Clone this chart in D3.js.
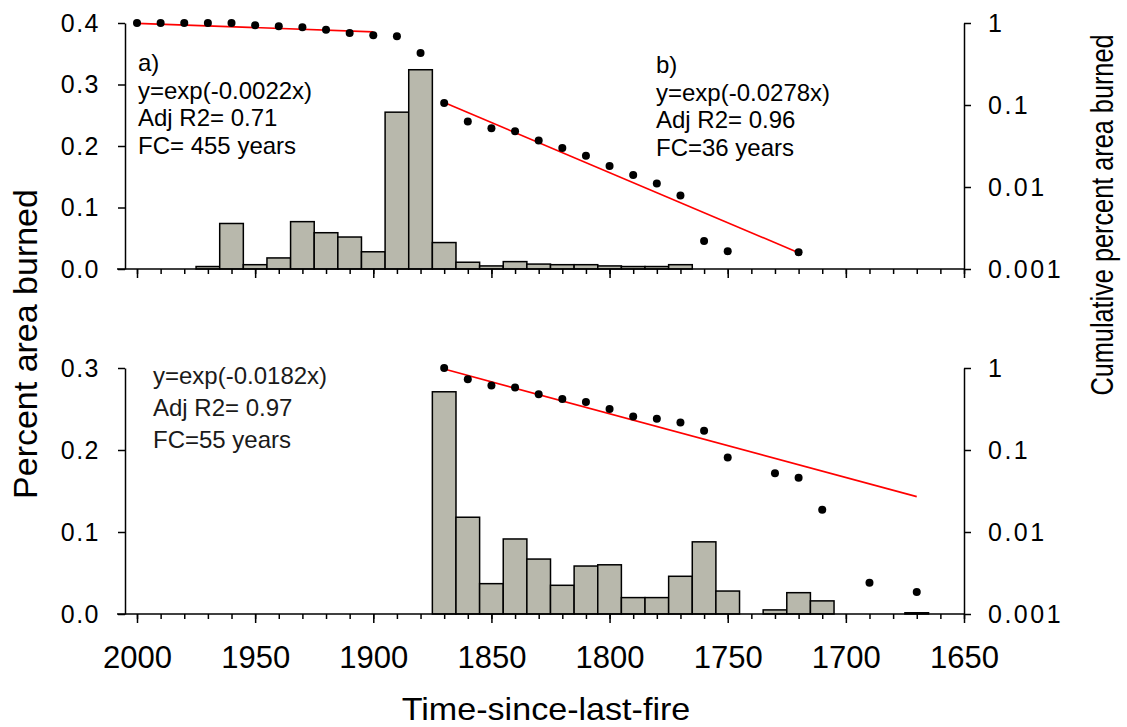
<!DOCTYPE html>
<html>
<head>
<meta charset="utf-8">
<script src="https://cdn.jsdelivr.net/npm/d3@7"></script>
<style>
  body { margin: 0; background: #fff; }
  text { font-family: "Liberation Sans", Arial, sans-serif; fill: #000; }
</style>
</head>
<body>
<script>
// ---- data ----
// top panel: percent area burned per 10-year class
const topBarYears = [1970, 1960, 1950, 1940, 1930, 1920, 1910, 1900, 1890, 1880, 1870,
                     1860, 1850, 1840, 1830, 1820, 1810, 1800, 1790, 1780, 1770];
const topBarValues = [0.004, 0.074, 0.007, 0.018, 0.077, 0.059, 0.052, 0.028, 0.255, 0.324, 0.043,
                      0.011, 0.005, 0.012, 0.008, 0.007, 0.007, 0.005, 0.004, 0.004, 0.007];
// top panel: cumulative percent area burned (log axis)
const topDotYears = [2000, 1990, 1980, 1970, 1960, 1950, 1940, 1930, 1920, 1910, 1900, 1890, 1880,
                     1870, 1860, 1850, 1840, 1830, 1820, 1810, 1800, 1790, 1780, 1770, 1760, 1750, 1720];
const topDotValues = [1, 1, 1, 1, 1, 0.94, 0.91, 0.89, 0.83, 0.755, 0.71, 0.69, 0.43,
                      0.106, 0.063, 0.052, 0.048, 0.037, 0.030, 0.024, 0.018, 0.014, 0.011, 0.0079, 0.0022, 0.00165, 0.0016];
// fitted lines (end points)
const fitAYears = [2000, 1900];
const fitAValues = [0.99, 0.78];
const fitBYears = [1870, 1720];
const fitBValues = [0.107, 0.00158];

// bottom panel
const botBarYears = [1870, 1860, 1850, 1840, 1830, 1820, 1810, 1800, 1790, 1780, 1770, 1760, 1750,
                     1730, 1720, 1710, 1670];
const botBarValues = [0.271, 0.118, 0.037, 0.0915, 0.067, 0.035, 0.0585, 0.06, 0.020, 0.020, 0.046, 0.088, 0.028,
                      0.005, 0.026, 0.016, 0.0015];
const botDotYears = [1870, 1860, 1850, 1840, 1830, 1820, 1810, 1800, 1790, 1780, 1770, 1760, 1750,
                     1730, 1720, 1710, 1690, 1670];
const botDotValues = [1, 0.73, 0.61, 0.58, 0.48, 0.42, 0.385, 0.316, 0.257, 0.241, 0.217, 0.172, 0.081,
                      0.052, 0.046, 0.0187, 0.0024, 0.00186];
const fitCYears = [1870, 1670];
const fitCValues = [0.97, 0.027];

const majorYears = [2000, 1950, 1900, 1850, 1800, 1750, 1700, 1650];
const logTicks = [1, 0.1, 0.01, 0.001];

// ---- canvas ----
const W = 1127, H = 727;
const svg = d3.select("body").append("svg")
  .attr("width", W).attr("height", H)
  .style("background", "#fff");

const x = d3.scaleLinear().domain([2000, 1650]).range([137, 964]);
const binW = 10; // years per bar
const minorYears = d3.range(2000, 1649, -10);

const barFill = "#b8b8ac";

function panel(opts) {
  const yL = d3.scaleLinear().domain([0, opts.yMax]).range([opts.bottom, opts.top]);
  const yR = d3.scaleLog().domain([0.001, 1]).range([opts.bottom, opts.top]);
  const g = svg.append("g");

  // bars
  g.selectAll("rect.bar")
    .data(opts.barYears.map((yr, i) => ({ yr, v: opts.barValues[i] })))
    .join("rect")
    .attr("class", "bar")
    .attr("x", d => x(d.yr + binW / 2))
    .attr("width", d => x(d.yr - binW / 2) - x(d.yr + binW / 2))
    .attr("y", d => yL(d.v))
    .attr("height", d => yL(0) - yL(d.v))
    .attr("fill", barFill)
    .attr("stroke", "#000")
    .attr("stroke-width", 1.5);

  // fitted lines
  const line = d3.line().x(d => x(d[0])).y(d => yR(d[1]));
  opts.fits.forEach(f => {
    g.append("path")
      .datum(f.years.map((yr, i) => [yr, f.values[i]]))
      .attr("d", line)
      .attr("fill", "none")
      .attr("stroke", "#ff0000")
      .attr("stroke-width", 1.6);
  });

  // dots
  g.selectAll("circle.dot")
    .data(opts.dotYears.map((yr, i) => ({ yr, v: opts.dotValues[i] })))
    .join("circle")
    .attr("class", "dot")
    .attr("cx", d => x(d.yr))
    .attr("cy", d => yR(d.v))
    .attr("r", 4)
    .attr("fill", "#000");

  // x axis line (extends a little left of the y axis, as in the original)
  g.append("line")
    .attr("x1", x.range()[0] - 20).attr("x2", x.range()[1])
    .attr("y1", opts.bottom).attr("y2", opts.bottom)
    .attr("stroke", "#000").attr("stroke-width", 1.5);

  // minor x ticks
  const minor = g.append("g")
    .attr("transform", `translate(0,${opts.bottom})`)
    .call(d3.axisBottom(x).tickValues(minorYears).tickSize(5).tickFormat(""));
  minor.select(".domain").remove();

  // major x ticks
  const major = g.append("g")
    .attr("transform", `translate(0,${opts.bottom})`)
    .call(d3.axisBottom(x).tickValues(majorYears).tickSize(9).tickPadding(23)
      .tickFormat(opts.xLabels ? d3.format("d") : ""));
  major.select(".domain").remove();
  major.selectAll("text").style("font-size", "31px");

  g.selectAll(".tick line").attr("stroke-width", 1.5);

  // left axis
  const left = g.append("g")
    .attr("transform", `translate(125,0)`)
    .call(d3.axisLeft(yL).tickValues(opts.leftTicks).tickFormat(d3.format(".1f"))
      .tickSize(7).tickSizeOuter(0).tickPadding(18));
  left.selectAll("text").style("font-size", "25px").style("letter-spacing", "1.5px");
  left.selectAll("line, path").attr("stroke-width", 1.5);

  // right axis
  const right = g.append("g")
    .attr("transform", `translate(${x.range()[1]},0)`)
    .call(d3.axisRight(yR).tickValues(logTicks).tickFormat(d3.format("~g"))
      .tickSize(7).tickSizeOuter(0).tickPadding(17));
  right.selectAll("text").style("font-size", "25px").style("letter-spacing", "2.5px");
  right.selectAll("line, path").attr("stroke-width", 1.5);

  // annotations
  opts.notes.forEach(n => {
    n.lines.forEach((t, i) => {
      g.append("text")
        .attr("x", n.x).attr("y", n.y + i * n.dy)
        .style("font-size", "24px")
        .style("fill", n.color || "#000")
        .text(t);
    });
  });
}

panel({
  top: 23, bottom: 269, yMax: 0.4, leftTicks: [0, 0.1, 0.2, 0.3, 0.4],
  barYears: topBarYears, barValues: topBarValues,
  dotYears: topDotYears, dotValues: topDotValues,
  fits: [{ years: fitAYears, values: fitAValues }, { years: fitBYears, values: fitBValues }],
  xLabels: false,
  notes: [
    { x: 138, y: 71, dy: 27.5, lines: ["a)", "y=exp(-0.0022x)", "Adj R2= 0.71", "FC= 455 years"] },
    { x: 656, y: 73, dy: 27.5, lines: ["b)", "y=exp(-0.0278x)", "Adj R2= 0.96", "FC=36 years"] }
  ]
});

panel({
  top: 368, bottom: 614, yMax: 0.3, leftTicks: [0, 0.1, 0.2, 0.3],
  barYears: botBarYears, barValues: botBarValues,
  dotYears: botDotYears, dotValues: botDotValues,
  fits: [{ years: fitCYears, values: fitCValues }],
  xLabels: true,
  notes: [
    { x: 153, y: 384, dy: 32, color: "#1a1a1a", lines: ["y=exp(-0.0182x)", "Adj R2= 0.97", "FC=55 years"] }
  ]
});

// axis titles
svg.append("text")
  .attr("transform", "translate(37,344) rotate(-90) scale(1.03,1)")
  .attr("text-anchor", "middle")
  .style("font-size", "33px")
  .text("Percent area burned");

// narrow title on the right: squeeze along its reading direction
svg.append("text")
  .attr("transform", "translate(1113,215) rotate(-90) scale(0.79,1)")
  .attr("text-anchor", "middle")
  .style("font-size", "32px")
  .text("Cumulative percent area burned");

svg.append("text")
  .attr("transform", "translate(546,720) scale(1.1,1)")
  .attr("text-anchor", "middle")
  .style("font-size", "31px")
  .text("Time-since-last-fire");
</script>
</body>
</html>
